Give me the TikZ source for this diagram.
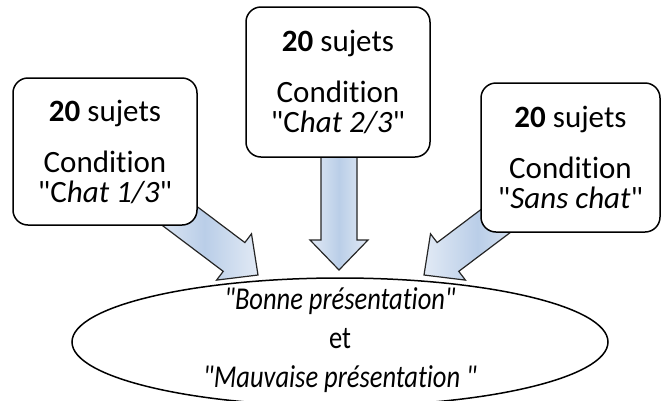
\documentclass[tikz,border=0pt]{standalone}
\usepackage{fontspec}
\setmainfont{Carlito}[Ligatures={TeX,NoCommon}]
\usetikzlibrary{shapes.geometric,backgrounds}
\definecolor{arrlight}{HTML}{E2EAF5}
\definecolor{arrblue}{HTML}{BACEE8}
\newcommand\dq{\textquotedbl}
\newcommand\tallline[1]{\scalebox{1}[1.2]{#1}}
\tikzset{
  condbox/.style={draw=black, line width=1.5pt, rounded corners=15pt, fill=white,
    align=center, inner sep=0pt, font=\fontsize{31}{30}\selectfont},
  blockarrow/.style={draw=black!85, line width=1.2pt, line join=miter,
    left color=arrlight, right color=arrlight, middle color=arrblue},
  resultell/.style={draw=black, line width=1.5pt, ellipse, inner sep=0pt},
  resulttext/.style={align=center, inner sep=0pt, font=\fontsize{26.5}{39}\selectfont}
}
\begin{document}
\begin{tikzpicture}[x=1pt,y=-1pt]
\useasboundingbox (0,0) rectangle (662,400);
% boxes
\node[condbox, minimum width=184pt, minimum height=147pt] (boxL) at (105,151.5)
  {\textbf{20} sujets\\[21pt]Condition\\\dq C\textit{hat 1/3}\dq};
\node[condbox, minimum width=184pt, minimum height=150pt] (boxM) at (338,82)
  {\textbf{20} sujets\\[21pt]Condition\\\dq C\textit{hat 2/3}\dq};
\node[condbox, minimum width=179pt, minimum height=149pt] (boxR) at (570.5,157.5)
  {\textbf{20} sujets\\[21pt]Condition\\\dq\textit{Sans chat}\dq};
% result ellipse
\node[resultell, minimum width=536pt, minimum height=128pt] (res) at (340,342) {};
\node[resulttext] (restext) at (res.center) [yshift=1.5pt]
  {\tallline{\textit{\dq Bonne présentation\dq}}\\
   \tallline{et}\\
   \tallline{\textit{\dq Mauvaise présentation \dq}}};
% arrow tips on the ellipse
\coordinate (tipL) at (258,275);
\coordinate (tipM) at (339,270);
\coordinate (tipR) at (424,275);
\begin{scope}[on background layer]
  \begin{scope}[shift={(tipL)}, rotate=-37]
    \path[blockarrow] (0,0) -- (-30,29) -- (-30,18) -- (-120,18) -- (-120,-18)
      -- (-30,-18) -- (-30,-29) -- cycle;
  \end{scope}
  \begin{scope}[shift={(tipM)}, rotate=-90]
    \path[blockarrow] (0,0) -- (-30,29) -- (-30,18) -- (-130,18) -- (-130,-18)
      -- (-30,-18) -- (-30,-29) -- cycle;
  \end{scope}
  \begin{scope}[shift={(tipR)}, rotate=-143]
    \path[blockarrow] (0,0) -- (-30,29) -- (-30,18) -- (-120,18) -- (-120,-18)
      -- (-30,-18) -- (-30,-29) -- cycle;
  \end{scope}
\end{scope}
\end{tikzpicture}
\end{document}
